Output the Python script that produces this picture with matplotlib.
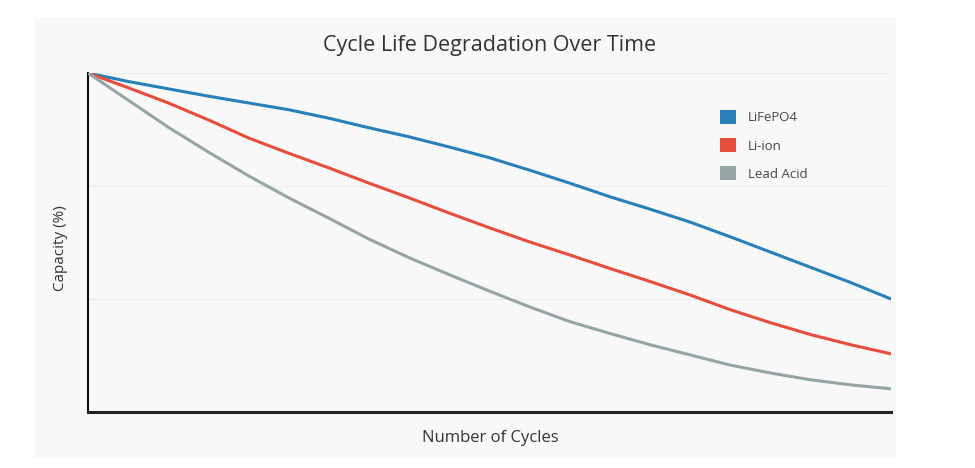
import numpy as np
import matplotlib
matplotlib.use("Agg")
import matplotlib.pyplot as plt
from matplotlib.patches import Patch

plt.rcParams['font.family'] = ['Open Sans', 'DejaVu Sans']

# cycles (hidden axis)
cycles = list(range(0, 4001, 200))
lifepo4 = [100, 98.5, 97.2, 95.9, 94.7, 93.5, 92.0, 90.3, 88.7, 86.9, 85.0,
           82.8, 80.5, 78.1, 75.9, 73.6, 71.0, 68.3, 65.6, 62.9, 60.0]
li_ion = [100, 97.4, 94.7, 91.7, 88.5, 85.8, 83.2, 80.5, 77.9, 75.2, 72.6,
          70.1, 67.8, 65.4, 63.1, 60.7, 58.1, 55.8, 53.7, 51.9, 50.3]
lead_acid = [100, 95.2, 90.4, 86.0, 81.8, 77.9, 74.3, 70.6, 67.3, 64.3, 61.4,
             58.6, 56.0, 53.9, 51.9, 50.1, 48.3, 46.9, 45.7, 44.8, 44.1]

series_names = ["LiFePO4", "Li-ion", "Lead Acid"]
colors = ["#2980b9", "#e74c3c", "#95a5a6"]

fig = plt.figure(figsize=(9.75, 4.68), dpi=100)
fig.patch.set_facecolor("white")

# light panel behind the chart
bg = fig.add_axes([34/975, 1-458/468, (896-34)/975, (458-17)/468])
bg.set_facecolor("#f8f8f8")
bg.set_xticks([])
bg.set_yticks([])
for s in bg.spines.values():
    s.set_visible(False)
bg.set_zorder(0)

ax = fig.add_axes([88/975, 1-412/468, (891-88)/975, (412-73)/468])
ax.set_zorder(1)
ax.set_facecolor("#f8f8f8")

for vals, c in zip([lifepo4, li_ion, lead_acid], colors):
    ax.plot(cycles, vals, color=c, lw=2.2, solid_capstyle="round",
            solid_joinstyle="round", zorder=3)

ax.set_xlim(0, 4000)
ax.set_ylim(40, 100)
ax.set_yticks([40, 60, 80, 100])
ax.set_xticks([])
ax.tick_params(axis="y", length=0, labelleft=False)
ax.grid(axis="y", color="#ececec", lw=0.8)
ax.set_axisbelow(True)

for s in ["top", "right"]:
    ax.spines[s].set_visible(False)
ax.spines["left"].set_color("#111111")
ax.spines["left"].set_linewidth(1.5)
ax.spines["bottom"].set_color("#222222")
ax.spines["bottom"].set_linewidth(2.2)

fig.text(490/975, 1-45/468, "Cycle Life Degradation Over Time",
         ha="center", va="center", fontsize=15.5, color="#333333")
fig.text(490/975, 1-438/468, "Number of Cycles",
         ha="center", va="center", fontsize=12, color="#333333")
fig.text(60/975, 1-248/468, "Capacity (%)", rotation=90,
         ha="center", va="center", fontsize=11, color="#333333")

handles = [Patch(facecolor=c, edgecolor="none") for c in colors]
leg = ax.legend(handles, series_names, loc="upper left",
                bbox_to_anchor=(715/975, 1-105/468), bbox_transform=fig.transFigure,
                frameon=False, fontsize=9.5, handlelength=1.2, handleheight=1.2,
                labelspacing=1.05, handletextpad=0.9, borderaxespad=0)
for t in leg.get_texts():
    t.set_color("#444444")

fig.savefig("out.png", dpi=100)
